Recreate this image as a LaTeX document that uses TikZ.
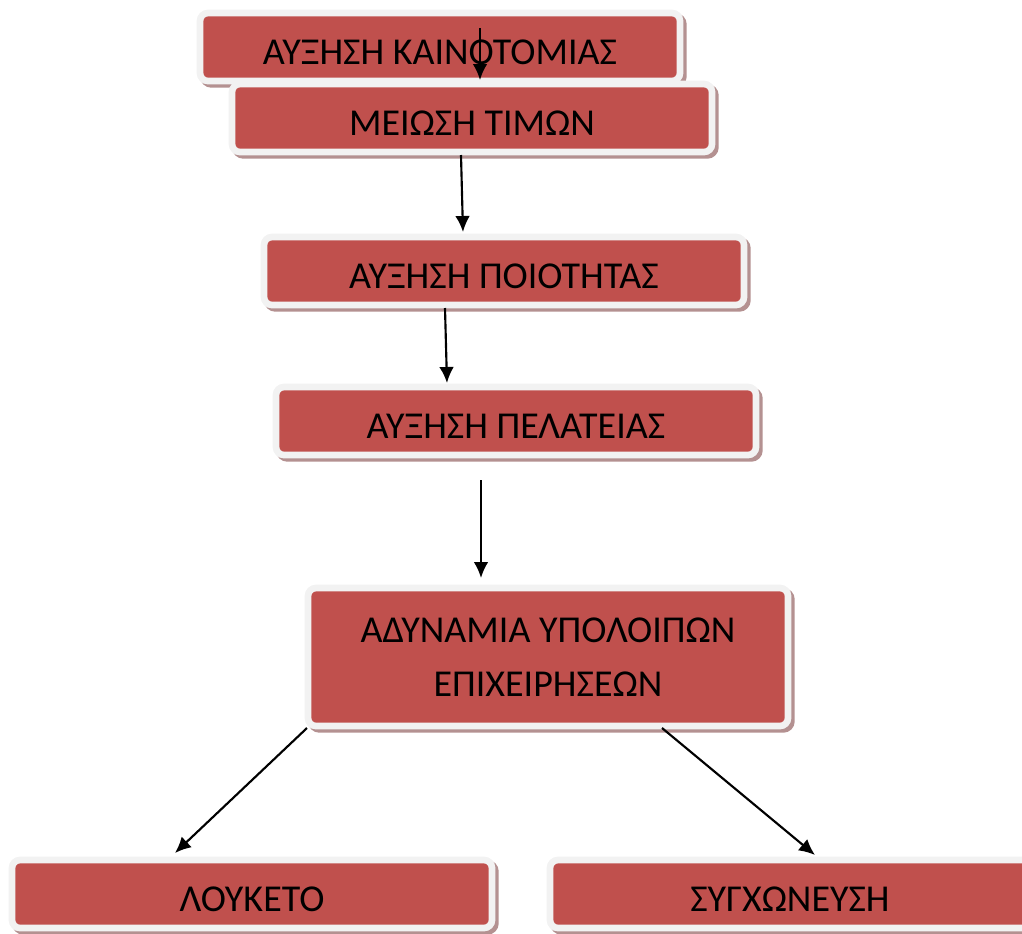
\documentclass[tikz,border=0pt]{standalone}
\usepackage{fontspec}
\setmainfont{Carlito}
\usepackage{tikz}
\usetikzlibrary{arrows.meta,calc,shadows}
\definecolor{corkokkino}{RGB}{192,80,77}
\definecolor{corplaisio}{RGB}{242,242,242}
\definecolor{corskia}{RGB}{180,145,145}

\begin{document}
\begin{tikzpicture}[
  x=0.75pt, y=-0.75pt,
  kouti/.style={rectangle, draw=corplaisio, line width=5pt, rounded corners=6pt,
                fill=corkokkino, minimum width=360pt, minimum height=51pt,
                align=center, text=black, font=\fontsize{28.5}{40}\selectfont,
                text height=26pt, text depth=0pt,
                drop shadow={shadow xshift=2.5pt, shadow yshift=-2.5pt,
                             fill=corskia, draw=corskia, line width=5pt, opacity=1}},
  velos/.style={-{Latex[length=12pt,width=11pt]}, line width=1.6pt, color=black}
]
  \useasboundingbox (0,0) rectangle (1022,933);
  \node[kouti] (kainot) at (440,47) {ΑΥΞΗΣΗ ΚΑΙΝΟΤΟΜΙΑΣ};
  \node[kouti] (times) at (472,118) {ΜΕΙΩΣΗ ΤΙΜΩΝ};
  \node[kouti] (poiotita) at (504,271) {ΑΥΞΗΣΗ ΠΟΙΟΤΗΤΑΣ};
  \node[kouti] (pelateia) at (516,421) {ΑΥΞΗΣΗ ΠΕΛΑΤΕΙΑΣ};
  \node[kouti, minimum height=103.5pt, text height=, text depth=] (adynamia) at (548,657) {ΑΔΥΝΑΜΙΑ ΥΠΟΛΟΙΠΩΝ\\ ΕΠΙΧΕΙΡΗΣΕΩΝ};
  \node[kouti] (louketo) at (252,894) {ΛΟΥΚΕΤΟ};
  \node[kouti] (sygxon) at (790,894) {ΣΥΓΧΩΝΕΥΣΗ};

  \draw[velos] ($(kainot.center)+(40,-19)$) -- ($(times.center)+(8,-38)$);
  \draw[velos] ($(times.center)+(-11,37)$) -- ($(poiotita.center)+(-41,-39)$);
  \draw[velos] ($(poiotita.center)+(-59,37)$) -- ($(pelateia.center)+(-69,-38)$);
  \draw[velos] ($(pelateia.center)+(-35,59)$) -- ($(adynamia.center)+(-67,-79)$);
  \draw[velos] ($(adynamia.center)+(-241,71)$) -- ($(louketo.center)+(-77,-41)$);
  \draw[velos] ($(adynamia.center)+(114,71)$) -- ($(sygxon.center)+(25,-39)$);
\end{tikzpicture}
\end{document}
